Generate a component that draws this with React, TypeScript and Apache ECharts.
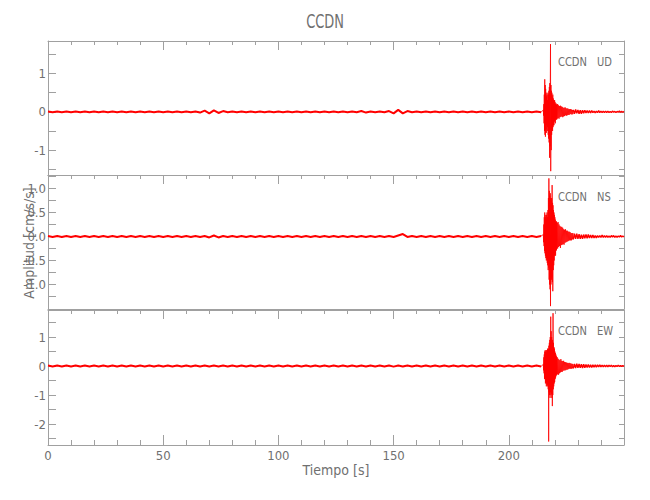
import React, { useEffect, useRef } from "react";
import * as echarts from "echarts";

// ---------- data ----------
const stationName = "CCDN";
const componentNames = ["UD", "NS", "EW"];
const xTitle = "Tiempo [s]";
const yTitle = "Amplitud [cm/s/s]";

const xRange = [0, 250];
const xTicksMajor = [0, 50, 100, 150, 200];
const xTicksMinor = [10, 20, 30, 40, 60, 70, 80, 90, 110, 120, 130, 140, 160, 170, 180, 190, 210, 220, 230, 240];

const yRanges = [[-1.65, 1.85], [-1.51, 1.28], [-2.72, 1.93]];
const yTicksMajor = [[-1, 0, 1], [-1, -0.5, 0, 0.5, 1], [-2, -1, 0, 1]];
const yTicksAll = [
  [-1.5, -1, -0.5, 0, 0.5, 1, 1.5],
  [-1.25, -1, -0.75, -0.5, -0.25, 0, 0.25, 0.5, 0.75, 1, 1.25],
  [-2.5, -2, -1.5, -1, -0.5, 0, 0.5, 1, 1.5],
];
const yDecimals = [0, 1, 0];

// sampling of each record segment: [start time, step] in seconds
const noiseSampling = [0, 2];
const burstSampling = [215, 0.1];
const codaSampling = [221, 0.2];
const tailSampling = [228, 0.5];

// UD component
const udNoise = [
  0.01, -0.01, 0.01, -0.01, 0.01, -0.01, 0.01, -0.01, 0.01, -0.01,
  0.01, -0.01, 0.01, -0.01, 0.01, -0.01, 0.01, -0.01, 0.01, -0.01,
  0.01, -0.01, 0.01, -0.01, 0.01, -0.01, 0.01, -0.01, 0.01, -0.01,
  0.01, -0.01, 0.01, -0.02, 0.03, -0.04, 0.04, -0.03, 0.02, -0.01,
  0.01, -0.01, 0.01, -0.01, 0.01, -0.01, 0.01, -0.01, 0.01, -0.01,
  0.01, -0.01, 0.01, -0.01, 0.01, -0.01, 0.01, -0.01, 0.01, -0.01,
  0.01, -0.01, 0.01, -0.01, 0.01, -0.01, 0.01, -0.01, 0.02, -0.02,
  0.01, -0.01, 0.01, -0.01, 0.02, -0.04, 0.05, -0.04, 0.02, -0.01,
  0.01, -0.01, 0.01, -0.01, 0.01, -0.01, 0.01, -0.01, 0.01, -0.01,
  0.01, -0.01, 0.01, -0.01, 0.01, -0.01, 0.01, -0.01, 0.01, -0.01,
  0.01, -0.01, 0.01, -0.01, 0.01, -0.01, 0.01, -0.01,
];
const udBurst = [
  0.05, -0.1, 0.2, -0.3, 0.45, -0.5, 0.85, -0.6, 0.7, -0.65,
  0.6, -0.45, 0.5, -0.55, 0.4, -0.35, 0.45, -0.5, 0.3, -0.4,
  0.5, -0.6, 0.45, -0.7, 0.55, -0.8, 0.65, -1.2, 0.75, -0.9,
  0.6, 1.77, -1.55, 0.7, -1.0, 0.55, -0.6, 0.5, -0.45, 0.4,
  -0.5, 0.45, -0.4, 0.35, -0.35, 0.3, -0.35, 0.3, -0.25, 0.3,
  -0.25, 0.25, -0.3, 0.2, -0.2, 0.22, -0.2, 0.18, -0.2, 0.2,
];
const udCoda = [
  -0.18, 0.2, -0.16, 0.17, -0.18, 0.15, -0.14, 0.16, -0.13, 0.14,
  -0.12, 0.13, -0.14, 0.11, -0.12, 0.1, -0.11, 0.12, -0.09, 0.1,
  -0.1, 0.08, -0.09, 0.09, -0.08, 0.07, -0.08, 0.07, -0.06, 0.07,
  -0.06, 0.06, -0.07, 0.05, -0.06,
];
const udTail = [
  0.05, -0.05, 0.06, -0.04, 0.05, -0.05, 0.04, -0.05, 0.04, -0.04,
  0.04, -0.03, 0.03, -0.03, 0.03, -0.03, 0.03, -0.02, 0.02, -0.03,
  0.02, -0.02, 0.03, -0.02, 0.02, -0.02, 0.02, -0.02, 0.02, -0.02,
  0.02, -0.02, 0.01, -0.02, 0.02, -0.01, 0.01, -0.02, 0.01, -0.01,
  0.02, -0.01, 0.01, -0.01, 0.01,
];

// NS component
const nsNoise = [
  0.01, -0.01, 0.01, -0.01, 0.01, -0.01, 0.01, -0.01, 0.01, -0.01,
  0.01, -0.01, 0.01, -0.01, 0.01, -0.01, 0.01, -0.01, 0.01, -0.01,
  0.01, -0.01, 0.01, -0.01, 0.01, -0.01, 0.01, -0.01, 0.01, -0.01,
  0.01, -0.01, 0.01, -0.01, 0.01, -0.02, 0.02, -0.02, 0.01, -0.01,
  0.01, -0.01, 0.01, -0.01, 0.01, -0.01, 0.01, -0.01, 0.01, -0.01,
  0.01, -0.01, 0.01, -0.01, 0.01, -0.01, 0.01, -0.01, 0.01, -0.01,
  0.01, -0.01, 0.01, -0.01, 0.01, -0.01, 0.01, -0.01, 0.01, -0.01,
  0.01, -0.01, 0.01, -0.01, 0.01, -0.01, 0.02, 0.05, -0.01, 0.01,
  -0.01, 0.01, -0.01, 0.01, -0.01, 0.01, -0.01, 0.01, -0.01, 0.01,
  -0.01, 0.01, -0.01, 0.01, -0.01, 0.01, -0.01, 0.01, -0.01, 0.01,
  -0.01, 0.01, -0.01, 0.01, -0.01, 0.01, -0.01, 0.01,
];
const nsBurst = [
  0.04, -0.12, 0.25, -0.2, 0.4, -0.3, 0.5, -0.35, 0.45, -0.4,
  0.4, -0.45, 0.35, -0.5, 0.45, -0.45, 0.5, -0.55, 0.4, -0.6,
  0.55, -0.7, 0.8, -0.65, 1.21, -0.9, 0.95, -1.0, 0.85, -1.1,
  0.9, -1.45, 0.8, -1.0, 0.75, -0.9, 0.8, -0.85, 1.07, -0.95,
  0.7, -1.14, 0.65, -0.7, 0.55, -0.6, 0.5, -0.5, 0.45, -0.4,
  0.4, -0.35, 0.35, -0.4, 0.3, -0.3, 0.32, -0.28, 0.3, -0.25,
];
const nsCoda = [
  0.28, -0.25, 0.3, -0.22, 0.25, -0.2, 0.22, -0.24, 0.2, -0.18,
  0.2, -0.17, 0.18, -0.16, 0.15, -0.17, 0.14, -0.13, 0.15, -0.12,
  0.12, -0.11, 0.12, -0.1, 0.1, -0.09, 0.1, -0.08, 0.09, -0.08,
  0.07, -0.08, 0.07, -0.06, 0.07,
];
const nsTail = [
  -0.06, 0.06, -0.05, 0.06, -0.05, 0.05, -0.05, 0.04, -0.05, 0.04,
  -0.04, 0.04, -0.04, 0.04, -0.03, 0.03, -0.03, 0.03, -0.03, 0.02,
  -0.03, 0.02, -0.02, 0.02, -0.02, 0.03, -0.02, 0.02, -0.02, 0.02,
  -0.02, 0.01, -0.02, 0.02, -0.01, 0.02, -0.02, 0.01, -0.02, 0.01,
  -0.01, 0.02, -0.01, 0.01, -0.01,
];

// EW component
const ewNoise = [
  0.015, -0.015, 0.015, -0.015, 0.015, -0.015, 0.015, -0.015, 0.015, -0.015,
  0.015, -0.015, 0.015, -0.015, 0.015, -0.015, 0.015, -0.015, 0.015, -0.015,
  0.015, -0.015, 0.015, -0.015, 0.015, -0.015, 0.015, -0.015, 0.015, -0.015,
  0.015, -0.015, 0.015, -0.015, 0.015, -0.015, 0.015, -0.015, 0.015, -0.015,
  0.015, -0.015, 0.015, -0.015, 0.015, -0.015, 0.015, -0.015, 0.015, -0.015,
  0.015, -0.015, 0.015, -0.015, 0.015, -0.015, 0.015, -0.015, 0.015, -0.015,
  0.015, -0.015, 0.015, -0.015, 0.015, -0.015, 0.015, -0.015, 0.015, -0.015,
  0.015, -0.015, 0.015, -0.015, 0.02, -0.02, 0.015, -0.015, 0.015, -0.015,
  0.015, -0.015, 0.015, -0.015, 0.015, -0.015, 0.015, -0.015, 0.015, -0.015,
  0.015, -0.015, 0.015, -0.015, 0.015, -0.015, 0.015, -0.015, 0.015, -0.015,
  0.015, -0.015, 0.015, -0.015, 0.015, -0.015, 0.015, -0.015,
];
const ewBurst = [
  0.06, -0.15, 0.3, -0.25, 0.4, -0.45, 0.5, -0.4, 0.55, -0.6,
  0.5, -0.55, 0.45, -0.7, 0.55, -0.6, 0.5, -0.65, 0.6, -0.7,
  0.55, -0.8, 0.6, -2.6, 0.7, -0.9, 0.8, -1.0, 0.9, -1.1,
  1.0, -0.9, 1.7, -1.0, 1.2, -0.95, 1.0, -1.1, 0.85, -1.38,
  0.9, -1.0, 1.82, -0.8, 0.8, -0.7, 0.65, -0.6, 0.6, -0.55,
  0.5, -0.45, 0.45, -0.4, 0.4, -0.35, 0.35, -0.3, 0.3, -0.3,
];
const ewCoda = [
  0.3, -0.28, 0.25, -0.3, 0.22, -0.25, 0.2, -0.22, 0.24, -0.2,
  0.18, -0.2, 0.17, -0.16, 0.18, -0.15, 0.14, -0.15, 0.13, -0.14,
  0.12, -0.12, 0.11, -0.12, 0.1, -0.1, 0.11, -0.09, 0.1, -0.09,
  0.08, -0.09, 0.08, -0.08, 0.07,
];
const ewTail = [
  -0.08, 0.07, -0.07, 0.08, -0.06, 0.07, -0.06, 0.06, -0.07, 0.06,
  -0.06, 0.05, -0.05, 0.05, -0.05, 0.04, -0.05, 0.04, -0.04, 0.04,
  -0.04, 0.04, -0.03, 0.04, -0.03, 0.03, -0.03, 0.03, -0.03, 0.03,
  -0.03, 0.03, -0.02, 0.03, -0.03, 0.02, -0.03, 0.02, -0.02, 0.03,
  -0.02, 0.02, -0.02, 0.02, -0.02,
];

const traces = [
  { noise: udNoise, burst: udBurst, coda: udCoda, tail: udTail },
  { noise: nsNoise, burst: nsBurst, coda: nsCoda, tail: nsTail },
  { noise: ewNoise, burst: ewBurst, coda: ewCoda, tail: ewTail },
];

// ---------- styling / layout ----------
const FONT = "'Liberation Sans Narrow', 'DejaVu Sans Condensed', 'Liberation Sans', sans-serif";
const TEXT_COLOR = "#707070";
const AXIS_COLOR = "#a0a0a0";
const LINE_COLOR = "#ff0000";
const grids = [
  { left: 48, width: 576, top: 41, height: 134 },
  { left: 48, width: 576, top: 175, height: 134 },
  { left: 48, width: 576, top: 310, height: 135 },
];
const labelRows = [62, 197, 331];

function seg(sampling: number[], vals: number[]) {
  return vals.map((v, i) => [Math.round((sampling[0] + i * sampling[1]) * 100) / 100, v]);
}

function buildOption() {
  const xAxis: any[] = [];
  const yAxis: any[] = [];
  const series: any[] = [];
  const axisLine = { show: true, onZero: false, lineStyle: { color: AXIS_COLOR, width: 1 } };

  grids.forEach((_, g) => {
    const last = g === grids.length - 1;
    const xMain = xAxis.length;
    xAxis.push({
      type: "value", gridIndex: g, position: "bottom", min: xRange[0], max: xRange[1],
      axisLine,
      axisTick: last ? { show: true, inside: true, length: 10, customValues: xTicksMajor, lineStyle: { color: AXIS_COLOR } } : { show: false },
      axisLabel: last ? { show: true, customValues: xTicksMajor, color: TEXT_COLOR, fontFamily: FONT, fontSize: 13, margin: 4 } : { show: false },
      splitLine: { show: false },
      name: last ? xTitle : "",
      nameLocation: "middle",
      nameGap: 17,
      nameTextStyle: { color: TEXT_COLOR, fontFamily: FONT, fontSize: 14 },
    });
    if (last) {
      xAxis.push({
        type: "value", gridIndex: g, position: "bottom", min: xRange[0], max: xRange[1],
        axisLine: { show: false, onZero: false },
        axisTick: { show: true, inside: true, length: 5, customValues: xTicksMinor, lineStyle: { color: AXIS_COLOR } },
        axisLabel: { show: false }, splitLine: { show: false },
      });
    }
    xAxis.push({
      type: "value", gridIndex: g, position: "top", min: xRange[0], max: xRange[1],
      axisLine,
      axisTick: { show: true, inside: true, length: 9, customValues: xTicksMajor, lineStyle: { color: AXIS_COLOR } },
      axisLabel: { show: false }, splitLine: { show: false },
    });
    xAxis.push({
      type: "value", gridIndex: g, position: "top", min: xRange[0], max: xRange[1],
      axisLine: { show: false, onZero: false },
      axisTick: { show: true, inside: true, length: 4, customValues: xTicksMinor, lineStyle: { color: AXIS_COLOR } },
      axisLabel: { show: false }, splitLine: { show: false },
    });

    const yMain = yAxis.length;
    const dec = yDecimals[g];
    yAxis.push({
      type: "value", gridIndex: g, position: "left", min: yRanges[g][0], max: yRanges[g][1],
      axisLine,
      axisTick: { show: true, inside: true, length: 8, customValues: yTicksAll[g], lineStyle: { color: AXIS_COLOR } },
      axisLabel: {
        show: true, customValues: yTicksMajor[g], color: TEXT_COLOR, fontFamily: FONT, fontSize: 13, margin: 2,
        formatter: (v: number) => v.toFixed(dec),
      },
      splitLine: { show: false },
    });
    yAxis.push({
      type: "value", gridIndex: g, position: "right", min: yRanges[g][0], max: yRanges[g][1],
      axisLine,
      axisTick: { show: true, inside: true, length: 5, customValues: yTicksAll[g], lineStyle: { color: AXIS_COLOR } },
      axisLabel: { show: false }, splitLine: { show: false },
    });

    const tr = traces[g];
    const noise = seg(noiseSampling, tr.noise);
    const tail = seg(tailSampling, tr.tail);
    const active = [noise[noise.length - 1], ...seg(burstSampling, tr.burst), ...seg(codaSampling, tr.coda), tail[0]];
    const base = {
      type: "line", xAxisIndex: xMain, yAxisIndex: yMain, showSymbol: false, symbol: "none",
      silent: true, z: 3,
    };
    series.push({ ...base, name: componentNames[g] + "-pre", data: noise, lineStyle: { color: LINE_COLOR, width: 2 } });
    series.push({ ...base, name: componentNames[g], data: active, lineStyle: { color: LINE_COLOR, width: 0.8 } });
    series.push({ ...base, name: componentNames[g] + "-post", data: tail, lineStyle: { color: LINE_COLOR, width: 1.4 } });
  });

  const graphic: any[] = [
    {
      type: "text", x: 325, y: 21, scaleX: 0.72,
      style: { text: stationName, font: `20px ${FONT}`, fill: TEXT_COLOR, textAlign: "center", textVerticalAlign: "middle" },
    },
    {
      type: "text", x: 29, y: 243, rotation: Math.PI / 2,
      style: { text: yTitle, font: `14px ${FONT}`, fill: TEXT_COLOR, textAlign: "center", textVerticalAlign: "middle" },
    },
  ];
  componentNames.forEach((c, g) => {
    graphic.push({
      type: "text", x: 558, y: labelRows[g], scaleX: 0.85,
      style: { text: stationName, font: `13px ${FONT}`, fill: TEXT_COLOR, textAlign: "left", textVerticalAlign: "middle" },
    });
    graphic.push({
      type: "text", x: 597, y: labelRows[g], scaleX: 0.85,
      style: { text: c, font: `13px ${FONT}`, fill: TEXT_COLOR, textAlign: "left", textVerticalAlign: "middle" },
    });
  });

  return {
    animation: false,
    backgroundColor: "#ffffff",
    grid: grids.map((g) => ({ ...g, containLabel: false })),
    xAxis,
    yAxis,
    series,
    graphic,
  };
}

export default function App() {
  const ref = useRef<HTMLDivElement>(null);
  useEffect(() => {
    if (!ref.current) return;
    const chart = echarts.init(ref.current, undefined, { renderer: "svg" });
    chart.setOption(buildOption() as any);
    return () => chart.dispose();
  }, []);
  return <div ref={ref} style={{ position: "fixed", left: 0, top: 0, width: 650, height: 500, background: "#fff" }} />;
}
